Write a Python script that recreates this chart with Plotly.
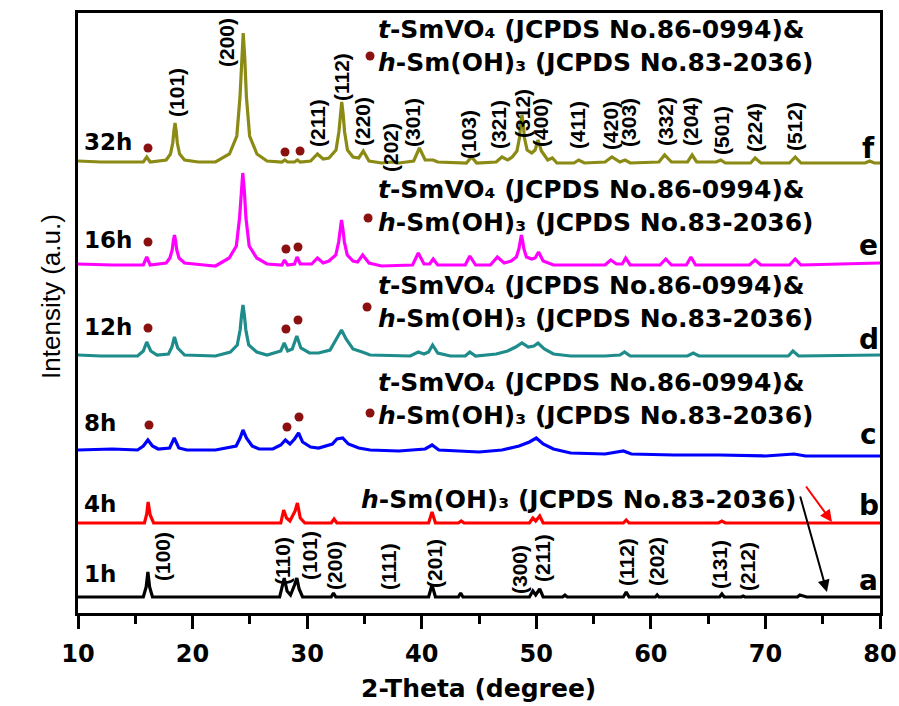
import plotly.graph_objects as go

# ---------------- data (2-theta in degree, intensity in a.u. incl. stacking offset) ----------------
f_32h = [(10,452),(12,451),(15.7,451),(16.0,456),(16.3,451),(17.7,453),(18.07,459),(18.27,470),(18.37,482),(18.47,490),
         (18.57,482),(18.67,470),(18.87,459),(19.3,453),(20.5,451),(22,451),(23.22,459),(23.86,477),(24.14,516),(24.28,554),
         (24.42,580),(24.56,554),(24.70,516),(24.98,477),(25.62,459),(26.5,452),(27.8,451),(28.05,453),(28.3,451),(28.9,451),
         (29.15,453),(29.4,451),(30.3,452),(30.9,459),(31.4,454),(31.9,455),(32.52,463),(32.77,481),(32.9,499),(33.02,511),
         (33.14,499),(33.27,481),(33.52,463),(34.0,456),(34.5,455),(34.9,462),(35.4,452),(36.5,450),(37.3,451),(38,450),
         (39.3,452),(39.8,465),(40.3,453),(41.0,453),(41.4,451),(43.9,450),(44.35,456),(44.8,450),(46.5,451),(47.0,456),
         (47.5,453),(47.9,456),(48.31,462),(48.53,475),(48.64,489),(48.75,498),(48.86,489),(48.97,475),(49.2,463),(49.6,460),
         (49.9,463),(50.15,473),(50.45,462),(51.0,453),(51.4,455),(51.8,450),(53.3,450),(53.7,453),(54.2,450),(56.0,451),
         (56.6,456),(57.3,451),(57.75,453),(58.2,450),(60.7,451),(61.2,458),(61.8,451),(63.2,451),(63.6,458),(64.0,451),
         (65.7,451),(66.1,453),(66.5,450),(68.7,450),(69.1,455),(69.6,450),(72.1,450),(72.6,456),(73.1,450),(78.7,450),
         (79.1,452),(79.5,450),(80,450)]

e_16h = [(10,349),(13,348),(15.7,348),(16.0,356),(16.3,348),(17.7,350),(18.02,355),(18.22,363),(18.32,372),(18.42,378),
         (18.52,372),(18.62,363),(18.82,355),(19.3,350),(21,348),(22,347),(23.2,355),(23.82,367),(24.1,395),(24.24,422),
         (24.38,440),(24.52,422),(24.66,395),(24.94,367),(25.6,355),(26.5,349),(27.8,348),(28.02,353),(28.3,348),(28.9,349),
         (29.12,356),(29.4,349),(30.4,349),(30.9,355),(31.4,350),(31.9,352),(32.5,358),(32.75,371),(32.88,384),(33.0,393),
         (33.12,384),(33.25,371),(33.5,358),(34.0,352),(34.4,351),(34.85,358),(35.4,350),(36.5,347),(39.2,348),(39.7,360),
         (40.2,349),(40.7,349),(41.0,354),(41.4,348),(43.8,348),(44.2,357),(44.7,348),(46.0,348),(46.6,356),(47.2,350),
         (47.8,352),(48.26,356),(48.48,364),(48.59,372),(48.7,378),(48.81,372),(48.92,364),(49.14,356),(49.6,354),(49.9,355),
         (50.2,361),(50.6,352),(51.5,348),(56.0,348),(56.5,353),(57.0,349),(57.5,349),(57.8,355),(58.2,348),(60.8,348),
         (61.3,354),(61.8,348),(63.1,348),(63.5,356),(63.9,348),(68.6,348),(69.1,353),(69.6,348),(72.1,348),(72.6,354),
         (73.1,348),(80,350)]

d_12h = [(10,258),(12,257),(15.2,257),(15.7,262),(16.0,271),(16.35,262),(16.9,258),(17.9,259),(18.2,266),(18.42,276),
         (18.7,265),(19.3,258),(22,257),(23.3,261),(23.9,268),(24.15,283),(24.28,298),(24.4,308),(24.52,298),(24.65,283),
         (24.9,268),(25.6,261),(26.5,258),(27.7,262),(28.0,270),(28.3,262),(28.7,264),(29.1,277),(29.45,265),(30.2,260),
         (31,260),(32.0,263),(32.6,275),(33.0,283),(33.4,274),(34.0,264),(34.8,261),(35.5,258),(39.0,257),(39.7,261),
         (40.2,259),(40.6,261),(40.95,268),(41.4,260),(42.5,257),(43.8,257),(44.2,261),(44.7,257),(46.5,259),(47.5,262),
         (48.2,266),(48.75,270),(49.3,266),(49.8,267),(50.15,270),(50.7,264),(51.5,259),(53,257),(56,257),(57.3,258),
         (57.7,261),(58.2,257),(63.2,257),(63.7,260),(64.2,257),(72.0,257),(72.4,262),(72.9,257),(80,258)]

c_8h = [(10,163),(13,164),(15.2,163),(15.7,167),(16.1,173),(16.5,167),(17.0,164),(18.0,165),(18.4,175),(18.8,165),
        (19.5,163),(22,163),(23.8,167),(24.15,175),(24.4,183),(24.7,175),(25.2,167),(25.8,164),(27,164),(27.7,168),
        (28.1,173),(28.5,169),(28.9,174),(29.25,180),(29.6,171),(30.3,166),(31,165),(32.2,169),(32.6,174),(33.1,175),
        (33.6,169),(34.5,165),(35.5,163),(38,162),(40.3,164),(40.9,168),(41.5,163),(43,162),(45,161),(47,163),
        (48.5,167),(49.4,171),(50.0,175),(50.6,169),(51.5,164),(53,160),(56,159),(57.6,162),(58.3,159),(62,158),
        (66,158),(70,157),(72.5,159),(73.5,157),(80,157)]

b_4h = [(10,90),(15.8,90),(16.0,99),(16.12,111),(16.3,98),(16.6,90),(27.7,90),(27.95,103),(28.2,95),(28.5,92),
        (28.95,102),(29.15,110),(29.4,95),(29.8,90),(32.1,90),(32.35,94),(32.6,90),(40.6,90),(40.9,101),(41.2,90),
        (43.2,90),(43.45,92),(43.7,90),(49.4,90),(49.7,95),(49.95,92),(50.3,97),(50.6,90),(57.6,90),(57.85,93),
        (58.1,90),(65.9,90),(66.2,92),(66.5,90),(80,90)]

a_1h = [(10,16),(15.7,16),(15.95,26),(16.1,41),(16.25,26),(16.5,16),(27.6,16),(27.85,29),(28.0,35),(28.25,22),
        (28.55,18),(28.9,28),(29.1,35),(29.3,24),(29.6,16),(32.1,16),(32.3,20),(32.5,16),(40.6,16),(40.9,28),
        (41.2,16),(43.2,16),(43.4,20),(43.6,16),(49.4,16),(49.7,22),(49.95,18),(50.3,24),(50.6,16),(52.3,16),
        (52.5,18),(52.7,16),(57.6,16),(57.85,21),(58.1,16),(60.4,16),(60.55,18),(60.7,16),(66.0,16),(66.2,19),
        (66.4,16),(67.9,16),(68.05,17),(68.2,16),(72.8,16),(73.0,18),(73.3,17),(73.6,16),(80,16)]

series = [("a", "1h", a_1h, "#000000"), ("b", "4h", b_4h, "#ff0000"), ("c", "8h", c_8h, "#0000ff"),
          ("d", "12h", d_12h, "#1f8c8c"), ("e", "16h", e_16h, "#ff00ff"), ("f", "32h", f_32h, "#8a8a14")]

# h-Sm(OH)3 dot markers (2theta, intensity)
dots_x = [16.11, 28.07, 29.38, 16.11, 28.15, 29.2, 16.11, 28.15, 29.2, 16.2, 28.24, 29.29,
          35.49, 35.32, 35.23, 35.49]
dots_y = [465, 461, 462, 371, 364, 366, 285, 284, 293, 188, 186, 196,
          557, 395, 306, 200]

# hkl labels (t-SmVO4 on 32h, h-Sm(OH)3 on 1h)
hkl_top = ["(101)", "(200)", "(211)", "(112)", "(220)", "(202)", "(301)", "(103)", "(321)", "(312)",
           "(400)", "(411)", "(420)", "(303)", "(332)", "(204)", "(501)", "(224)", "(512)"]
hkl_top_x = [18.55, 22.92, 30.86, 32.96, 34.79, 37.23, 39.15, 44.04, 46.66, 48.75,
             50.32, 53.55, 56.43, 58.0, 61.24, 63.42, 66.12, 69.0, 72.5]
hkl_top_y = [521, 570, 490, 536, 491, 466, 491, 478, 488, 500, 491, 488, 488, 491, 491, 491, 483, 486, 486]

hkl_bot = ["(100)", "(110)", "(101)", "(200)", "(111)", "(201)", "(300)", "(211)", "(112)", "(202)", "(131)", "(212)"]
hkl_bot_x = [17.33, 27.8, 30.16, 32.34, 37.06, 41.07, 48.49, 50.5, 57.83, 60.45, 65.95, 68.39]
hkl_bot_y = [57, 52, 58, 48, 46, 50, 44, 55, 51, 51, 48, 47]

# time labels (left) and letters (right): intensity positions
time_y = {"1h": 39, "4h": 109, "8h": 190, "12h": 286, "16h": 373, "32h": 471}
letter_y = {"a": 33, "b": 108, "c": 179, "d": 274, "e": 368, "f": 465}

# two-line phase annotation blocks (centre intensity)
phase_block_y = [567, 407, 311, 214]
phase_x = 36.0
phase_b_y = 114
phase_b_x = 34.55

line1 = "<i>t</i>-SmVO\u2084 (JCPDS No.86-0994)&"
line2 = "<i>h</i>-Sm(OH)\u2083 (JCPDS No.83-2036)"

fig = go.Figure()
for letter, tlabel, pts, col in series:
    fig.add_trace(go.Scatter(x=[p[0] for p in pts], y=[p[1] for p in pts], mode="lines",
                             line=dict(color=col, width=3.2), showlegend=False, hoverinfo="skip"))

fig.add_trace(go.Scatter(x=dots_x, y=dots_y, mode="markers",
                         marker=dict(color="#8b1010", size=9), showlegend=False, hoverinfo="skip"))

ann = []
BF = "DejaVu Sans"
for t, x, y in zip(hkl_top + hkl_bot, hkl_top_x + hkl_bot_x, hkl_top_y + hkl_bot_y):
    ann.append(dict(x=x, y=y, text="<b>%s</b>" % t, textangle=-90, showarrow=False,
                    font=dict(family="Arial", size=21, color="black")))
for letter, tlabel, pts, col in series:
    ann.append(dict(x=10.35, y=time_y[tlabel], text="<b>%s</b>" % tlabel, showarrow=False, xanchor="left",
                    font=dict(family=BF, size=23, color="black")))
    ann.append(dict(x=79.0, y=letter_y[letter], text="<b>%s</b>" % letter, showarrow=False, xanchor="center",
                    font=dict(family=BF, size=28, color="black")))
for yb in phase_block_y:
    ann.append(dict(x=phase_x, y=yb, text="<b>%s<br>%s</b>" % (line1, line2), showarrow=False,
                    xanchor="left", yanchor="middle", align="left",
                    font=dict(family=BF, size=25, color="black")))
ann.append(dict(x=phase_b_x, y=phase_b_y, text="<b>%s</b>" % line2, showarrow=False, xanchor="left",
                font=dict(family=BF, size=25, color="black")))
# arrows
ann.append(dict(x=75.81, y=91, ax=73.45, ay=128, axref="x", ayref="y", text="", showarrow=True,
                arrowhead=2, arrowsize=1.2, arrowwidth=2, arrowcolor="#ff0000"))
ann.append(dict(x=75.37, y=21, ax=73.0, ay=118, axref="x", ayref="y", text="", showarrow=True,
                arrowhead=2, arrowsize=1.2, arrowwidth=2, arrowcolor="#000000"))
# axis titles
ann.append(dict(xref="paper", yref="paper", x=-0.054, y=0.528, text="Intensity (a.u.)", textangle=-90,
                showarrow=False, font=dict(family="Arial", size=26, color="black")))
ann.append(dict(xref="paper", yref="paper", x=0.499, y=-0.125, text="<b>2-Theta (degree)</b>",
                showarrow=False, yanchor="middle", font=dict(family=BF, size=25, color="black")))

fig.update_layout(
    width=899, height=706, margin=dict(l=78, r=19, t=13, b=93),
    paper_bgcolor="white", plot_bgcolor="white", annotations=ann,
    xaxis=dict(range=[10, 80], tick0=10, dtick=10, ticks="outside", ticklen=13, tickwidth=2.5,
               tickcolor="black", showline=True, linewidth=2.5, linecolor="black", mirror=True,
               showgrid=False, zeroline=False, ticklabelstandoff=4, automargin=False,
               tickfont=dict(family=BF, size=24, color="black", weight="bold"),
               minor=dict(dtick=5, ticks="outside", ticklen=8, tickwidth=2.5, tickcolor="black", showgrid=False)),
    yaxis=dict(range=[0, 600], showticklabels=False, ticks="", showline=True, linewidth=2.5, automargin=False,
               linecolor="black", mirror=True, showgrid=False, zeroline=False),
)

fig.write_html("out.html")
